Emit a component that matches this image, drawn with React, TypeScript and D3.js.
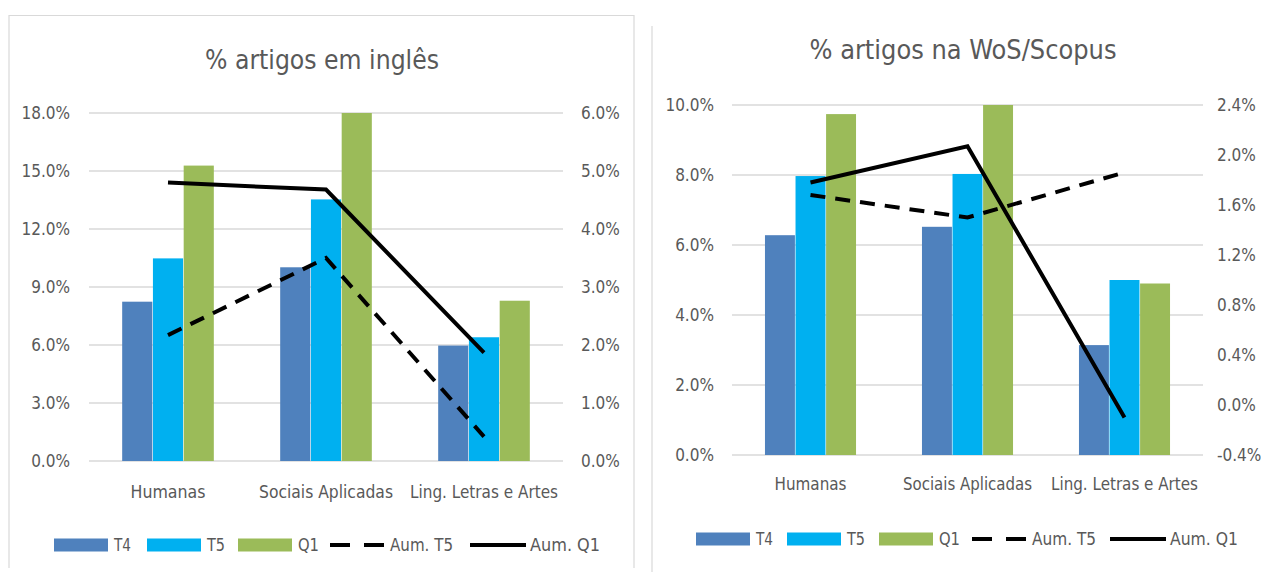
import React from 'react';
import * as d3 from 'd3';

// ---------- DATA ----------
const categories = ['Humanas', 'Sociais Aplicadas', 'Ling. Letras e Artes'];
const seriesNames = ['T4', 'T5', 'Q1'];
const lineNames = ['Aum. T5', 'Aum. Q1'];

// Chart 1: % artigos em inglês
const engT4 = [8.24, 10.02, 5.97];
const engT5 = [10.48, 13.53, 6.4];
const engQ1 = [15.28, 18.0, 8.29];
const engAumT5 = [2.17, 3.5, 0.42];
const engAumQ1 = [4.8, 4.68, 1.87];
const engLeftTicks = [0, 3, 6, 9, 12, 15, 18];
const engRightTicks = [0, 1, 2, 3, 4, 5, 6];

// Chart 2: % artigos na WoS/Scopus
const wosT4 = [6.28, 6.52, 3.14];
const wosT5 = [7.97, 8.03, 5.0];
const wosQ1 = [9.74, 10.0, 4.9];
const wosAumT5 = [1.68, 1.5, 1.86];
const wosAumQ1 = [1.78, 2.07, -0.1];
const wosLeftTicks = [0, 2, 4, 6, 8, 10];
const wosRightTicks = [-0.4, 0, 0.4, 0.8, 1.2, 1.6, 2.0, 2.4];

// ---------- STYLE ----------
const barColors = ['#4F81BD', '#00B0F0', '#9BBB59'];
const textColor = '#595959';
const gridColor = '#D9D9D9';
const FONT = "'Liberation Sans Narrow', 'DejaVu Sans Condensed', 'Liberation Sans', sans-serif";
const DASH = '15,10';

type ChartProps = {
  title: string;
  titleX: number; titleY: number; titleW: number;
  plotX0: number; plotX1: number; plotTop: number; plotBottom: number;
  leftDomain: [number, number]; rightDomain: [number, number];
  leftTicks: number[]; rightTicks: number[];
  leftLabelX: number; rightLabelX: number;
  bars: number[][]; lines: number[][];
  catY: number; catWidths: number[];
  legendY: number; legendX: number[]; legendTextW: number[];
};

function Chart(p: ChartProps) {
  const x = d3.scaleBand<string>().domain(categories).range([p.plotX0, p.plotX1]).paddingInner(0.42).paddingOuter(0.21);
  const xs = d3.scaleBand<string>().domain(seriesNames).range([0, x.bandwidth()]).paddingInner(0.02);
  const yL = d3.scaleLinear().domain(p.leftDomain).range([p.plotBottom, p.plotTop]);
  const yR = d3.scaleLinear().domain(p.rightDomain).range([p.plotBottom, p.plotTop]);
  const fmt = (v: number) => (v < 0 ? '-' : '') + d3.format('.1f')(Math.abs(v)) + '%';
  const lineGen = d3.line<number>()
    .x((_, i) => (x(categories[i]) as number) + x.bandwidth() / 2)
    .y((d) => yR(d));

  return (
    <g fontFamily={FONT}>
      <text x={p.titleX} y={p.titleY} textAnchor="middle" dominantBaseline="central" fontSize={26} fill={textColor}
        textLength={p.titleW} lengthAdjust="spacingAndGlyphs">{p.title}</text>
      {p.leftTicks.map((t) => (
        <g key={'l' + t}>
          <line x1={p.plotX0} x2={p.plotX1} y1={yL(t)} y2={yL(t)} stroke={gridColor} strokeWidth={1.5} />
          <text x={p.leftLabelX} y={yL(t)} textAnchor="end" dominantBaseline="central" fontSize={17} fill={textColor}>{fmt(t)}</text>
        </g>
      ))}
      {p.rightTicks.map((t) => (
        <text key={'r' + t} x={p.rightLabelX} y={yR(t)} textAnchor="start" dominantBaseline="central" fontSize={17} fill={textColor}>{fmt(t)}</text>
      ))}
      {categories.map((c, ci) => (
        <g key={c}>
          {p.bars.map((s, si) => (
            <rect key={si} x={(x(c) as number) + (xs(seriesNames[si]) as number)} width={xs.bandwidth()}
              y={yL(s[ci])} height={yL(0) - yL(s[ci])} fill={barColors[si]} />
          ))}
          <text x={(x(c) as number) + x.bandwidth() / 2} y={p.catY} textAnchor="middle" dominantBaseline="central"
            fontSize={17} fill={textColor} textLength={p.catWidths[ci]} lengthAdjust="spacingAndGlyphs">{c}</text>
        </g>
      ))}
      <path d={lineGen(p.lines[0]) || ''} fill="none" stroke="#000" strokeWidth={4} strokeDasharray={DASH} />
      <path d={lineGen(p.lines[1]) || ''} fill="none" stroke="#000" strokeWidth={4} />
      {/* legend */}
      {seriesNames.map((s, i) => (
        <g key={s}>
          <rect x={p.legendX[i]} y={p.legendY - 6.5} width={54} height={13} fill={barColors[i]} />
          <text x={p.legendX[i] + 60} y={p.legendY} dominantBaseline="central" fontSize={17} fill={textColor}
            textLength={p.legendTextW[i]} lengthAdjust="spacingAndGlyphs">{s}</text>
        </g>
      ))}
      {lineNames.map((s, i) => (
        <g key={s}>
          <line x1={p.legendX[3 + i]} x2={p.legendX[3 + i] + 56} y1={p.legendY} y2={p.legendY} stroke="#000" strokeWidth={4}
            strokeDasharray={i === 0 ? '20,14' : undefined} />
          <text x={p.legendX[3 + i] + 60} y={p.legendY} dominantBaseline="central" fontSize={17} fill={textColor}
            textLength={p.legendTextW[3 + i]} lengthAdjust="spacingAndGlyphs">{s}</text>
        </g>
      ))}
    </g>
  );
}

export default function App() {
  return (
    <div style={{ position: 'absolute', left: 0, top: 0 }}>
      <svg width={1261} height={572} style={{ display: 'block', background: '#fff' }}>
        <rect x={0} y={0} width={1261} height={572} fill="#fff" />
        <path d="M9,568 V15.5 H634 V568" fill="none" stroke={gridColor} strokeWidth={1.2} />
        <line x1={652} x2={652} y1={26} y2={572} stroke={gridColor} strokeWidth={1.2} />
        <Chart
          title="% artigos em inglês" titleX={322} titleY={60} titleW={234}
          plotX0={89} plotX1={563} plotTop={113} plotBottom={461}
          leftDomain={[0, 18]} rightDomain={[0, 6]}
          leftTicks={engLeftTicks} rightTicks={engRightTicks}
          leftLabelX={70} rightLabelX={581}
          bars={[engT4, engT5, engQ1]} lines={[engAumT5, engAumQ1]}
          catY={492} catWidths={[75, 134, 148]}
          legendY={545} legendX={[54, 147, 238, 330, 470]} legendTextW={[17, 18, 21, 63, 70]}
        />
        <Chart
          title="% artigos na WoS/Scopus" titleX={963} titleY={50} titleW={307}
          plotX0={732} plotX1={1203} plotTop={105} plotBottom={455}
          leftDomain={[0, 10]} rightDomain={[-0.4, 2.4]}
          leftTicks={wosLeftTicks} rightTicks={wosRightTicks}
          leftLabelX={714} rightLabelX={1217}
          bars={[wosT4, wosT5, wosQ1]} lines={[wosAumT5, wosAumQ1]}
          catY={484} catWidths={[72, 129, 147]}
          legendY={539} legendX={[696, 787, 879, 972, 1110]} legendTextW={[17, 18, 21, 64, 68]}
        />
      </svg>
    </div>
  );
}
